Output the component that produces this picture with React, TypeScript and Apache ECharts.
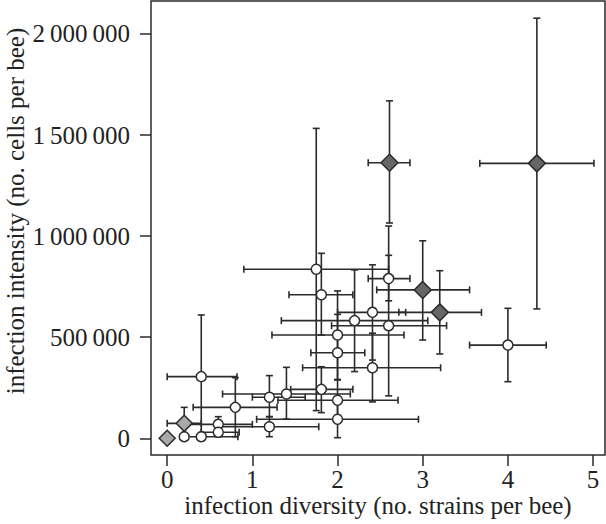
import React, { useEffect, useRef } from "react";
import * as echarts from "echarts";

// Each row: [diversity, intensity, xLow, xHigh, yLow, yHigh]
const circlePoints: number[][] = [
  [1.75, 836000, 0.9, 2.6, 137000, 1533000],
  [1.81, 710000, 1.43, 2.18, 511000, 915000],
  [1.81, 242000, 1.45, 2.18, 127000, 354000],
  [0.4, 305000, 0.0, 0.82, 8000, 610000],
  [0.8, 153000, 0.305, 1.29, 8000, 300000],
  [1.2, 203000, 1.0, 1.62, 107000, 310000],
  [1.2, 57000, 0.62, 1.78, 8000, 107000],
  [1.4, 219000, 0.65, 2.15, 95000, 351000],
  [2.0, 188000, 1.3, 2.71, 95000, 290000],
  [2.0, 94000, 1.05, 2.95, 3000, 188000],
  [2.0, 511000, 1.23, 2.78, 290000, 729000],
  [2.0, 423000, 1.687, 2.32, 290000, 613000],
  [2.2, 582000, 1.34, 3.06, 330000, 833000],
  [2.41, 623000, 2.0, 2.8, 387000, 858000],
  [2.41, 349000, 1.59, 3.21, 180000, 520000],
  [2.6, 790000, 2.36, 2.85, 680000, 905000],
  [2.6, 557000, 1.93, 3.28, 210000, 1050000],
  [4.0, 461000, 3.55, 4.45, 280000, 643000],
  [0.2, 8000, 0.2, 0.2, 8000, 8000],
  [0.4, 8000, 0.2, 0.83, 8000, 8000],
  [0.6, 69000, 0.2, 1.0, 30000, 107000],
  [0.6, 30000, 0.4, 0.845, 8000, 60000],
];

const darkDiamonds: number[][] = [
  [4.34, 1360000, 3.67, 5.01, 640000, 2078000],
  [2.61, 1363000, 2.36, 2.85, 1065000, 1669000],
  [3.2, 623000, 2.72, 3.69, 417000, 829000],
  [3.0, 734000, 2.46, 3.55, 486000, 977000],
];

const lightDiamonds: number[][] = [
  [0.0, 0, 0.0, 0.0, 0, 0],
  [0.2, 74000, 0.0, 0.4, 0, 153000],
];

const xTicks = [0, 1, 2, 3, 4, 5];
const yTicks = [0, 500000, 1000000, 1500000, 2000000];

const FONT = "'Liberation Serif', 'DejaVu Serif', serif";
const INK = "#2b2b2b";

function fmtThousands(v: number): string {
  const s = String(Math.round(v));
  return s.replace(/\B(?=(\d{3})+(?!\d))/g, "\u2009");
}

function errorRender(params: any, api: any) {
  const x = api.value(0), y = api.value(1);
  const xlo = api.value(2), xhi = api.value(3);
  const ylo = api.value(4), yhi = api.value(5);
  const cap = 3.5;
  const style = { stroke: INK, lineWidth: 1.6 };
  const children: any[] = [];
  if (xhi > xlo) {
    const l = api.coord([xlo, y]);
    const r = api.coord([xhi, y]);
    children.push({ type: "line", shape: { x1: l[0], y1: l[1], x2: r[0], y2: r[1] }, style });
    children.push({ type: "line", shape: { x1: l[0], y1: l[1] - cap, x2: l[0], y2: l[1] + cap }, style });
    children.push({ type: "line", shape: { x1: r[0], y1: r[1] - cap, x2: r[0], y2: r[1] + cap }, style });
  }
  if (yhi > ylo) {
    const t = api.coord([x, yhi]);
    const b = api.coord([x, ylo]);
    children.push({ type: "line", shape: { x1: t[0], y1: t[1], x2: b[0], y2: b[1] }, style });
    children.push({ type: "line", shape: { x1: t[0] - cap, y1: t[1], x2: t[0] + cap, y2: t[1] }, style });
    children.push({ type: "line", shape: { x1: b[0] - cap, y1: b[1], x2: b[0] + cap, y2: b[1] }, style });
  }
  return { type: "group", children };
}

export default function App() {
  const ref = useRef<HTMLDivElement>(null);
  useEffect(() => {
    if (!ref.current) return;
    const chart = echarts.init(ref.current, null, { renderer: "svg" });
    const allPoints = [...circlePoints, ...darkDiamonds, ...lightDiamonds];
    chart.setOption({
      animation: false,
      backgroundColor: "#ffffff",
      grid: {
        left: 151,
        top: 1,
        right: 1,
        bottom: 69,
        show: true,
        borderColor: INK,
        borderWidth: 1.5,
        backgroundColor: "transparent",
      },
      xAxis: {
        type: "value",
        min: -0.19,
        max: 5.14,
        position: "bottom",
        splitLine: { show: false },
        axisLine: { show: false, onZero: false },
        axisTick: { show: true, inside: false, length: 11, customValues: xTicks, lineStyle: { color: INK, width: 1.5 } },
        axisLabel: {
          customValues: xTicks,
          margin: 12,
          color: "#222",
          fontFamily: FONT,
          fontSize: 25,
        },
      },
      yAxis: {
        type: "value",
        min: -82600,
        max: 2163000,
        position: "left",
        splitLine: { show: false },
        axisLine: { show: false, onZero: false },
        axisTick: { show: true, inside: false, length: 11, customValues: yTicks, lineStyle: { color: INK, width: 1.5 } },
        axisLabel: {
          customValues: yTicks,
          margin: 21,
          color: "#222",
          fontFamily: FONT,
          fontSize: 25,
          formatter: (v: number) => fmtThousands(v),
        },
      },
      graphic: [
        {
          type: "text",
          x: 378,
          y: 505,
          style: {
            text: "infection diversity (no. strains per bee)",
            fill: "#222",
            font: `25px ${FONT}`,
            align: "center",
            verticalAlign: "middle",
          },
        },
        {
          type: "text",
          x: 15,
          y: 211,
          rotation: Math.PI / 2,
          style: {
            text: "infection intensity (no. cells per bee)",
            fill: "#222",
            font: `25px ${FONT}`,
            align: "center",
            verticalAlign: "middle",
          },
        },
      ],
      series: [
        {
          type: "custom",
          renderItem: errorRender,
          data: allPoints,
          encode: { x: 0, y: 1 },
          z: 1,
          silent: true,
        },
        {
          type: "scatter",
          data: circlePoints.map((p) => [p[0], p[1]]),
          symbol: "circle",
          symbolSize: 10,
          itemStyle: { color: "#ffffff", borderColor: INK, borderWidth: 1.5, opacity: 1 },
          z: 3,
        },
        {
          type: "scatter",
          data: darkDiamonds.map((p) => [p[0], p[1]]),
          symbol: "diamond",
          symbolSize: 17,
          itemStyle: { color: "#666666", borderColor: INK, borderWidth: 1.5, opacity: 1 },
          z: 4,
        },
        {
          type: "scatter",
          data: lightDiamonds.map((p) => [p[0], p[1]]),
          symbol: "diamond",
          symbolSize: 16,
          itemStyle: { color: "#a8a8a8", borderColor: INK, borderWidth: 1.5, opacity: 1 },
          z: 4,
        },
      ],
    });
    return () => chart.dispose();
  }, []);
  return <div ref={ref} style={{ width: 606, height: 524, position: "absolute", left: 0, top: 0 }} />;
}
